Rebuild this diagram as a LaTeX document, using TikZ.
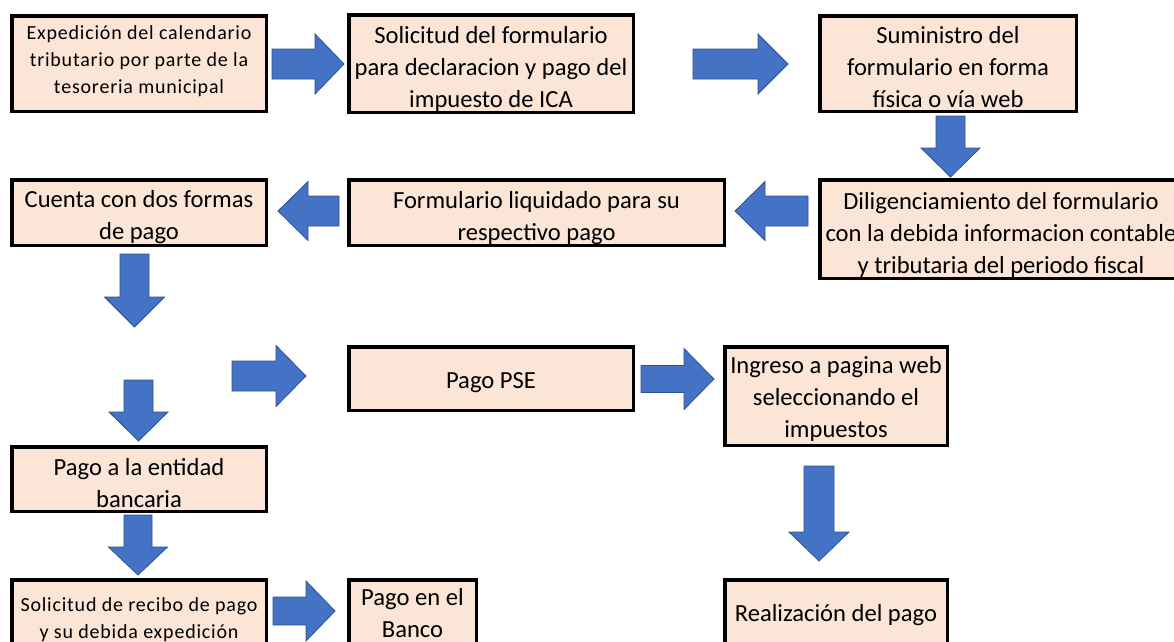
\documentclass[tikz,border=0pt]{standalone}
\usepackage{fontspec}
\setmainfont{Carlito}
\definecolor{boxfill}{HTML}{FBE5D6}
\definecolor{arrfill}{HTML}{4472C4}
\definecolor{arrline}{HTML}{2F528F}
\newcommand\bigfnt{\fontsize{24.6}{32}\selectfont}
\newcommand\smallfnt{\fontsize{20}{27}\selectfont\addfontfeature{LetterSpace=4}}
% text block whose first baseline lies #1 pt below the node centre
\newcommand\TB[2]{\smash{\raisebox{-#1pt}{\begin{tabular}[t]{@{}c@{}}#2\end{tabular}}}}
% right arrow: tail x, tip x, head base x, centre y, shaft half width, head half width
\newcommand\RArrow[6]{\draw[blockarrow] (#1,{#4-#5}) -- (#3,{#4-#5}) -- (#3,{#4-#6}) -- (#2,#4) -- (#3,{#4+#6}) -- (#3,{#4+#5}) -- (#1,{#4+#5}) -- cycle;}
% down arrow: tail y, tip y, head base y, centre x, shaft half width, head half width
\newcommand\DArrow[6]{\draw[blockarrow] ({#4-#5},#1) -- ({#4-#5},#3) -- ({#4-#6},#3) -- (#4,#2) -- ({#4+#6},#3) -- ({#4+#5},#3) -- ({#4+#5},#1) -- cycle;}
\begin{document}
\begin{tikzpicture}[x=1pt,y=-1pt,
  box/.style={draw=black, line width=3.5pt, fill=boxfill, inner sep=0pt, font=\bigfnt, text=black},
  smallbox/.style={box, font=\smallfnt},
  blockarrow/.style={fill=arrfill, draw=arrline, line width=0.8pt, line join=miter}]
\useasboundingbox (0,0) rectangle (1174,641);
\clip (0,0) rectangle (1174,641);
\fill[white] (0,0) rectangle (1174,641);

\node[smallbox, minimum width=254.5pt, minimum height=95.5pt] (b1) at (139,63.5)
  {\TB{-24.5}{Expedición del calendario\\tributario por parte de la\\tesoreria municipal}};
\node[box, minimum width=284.5pt, minimum height=97.5pt] (b2) at (491,63.5)
  {\TB{-20.2}{Solicitud del formulario\\para declaracion y pago del\\impuesto de ICA}};
\node[box, minimum width=256.5pt, minimum height=95.5pt] (b3) at (948,63.5)
  {\TB{-20.2}{Suministro del\\formulario en forma\\física o vía web}};
\node[box, minimum width=362.5pt, minimum height=98.5pt] (b4) at (1001,229)
  {\TB{-19.5}{Diligenciamiento del formulario\\con la debida informacion contable\\y tributaria del periodo fiscal}};
\node[box, minimum width=375.5pt, minimum height=65.5pt] (b5) at (536.5,212.5)
  {\TB{-4.2}{Formulario liquidado para su\\respectivo pago}};
\node[box, minimum width=254.5pt, minimum height=65.5pt] (b6) at (139,212.5)
  {\TB{-5.5}{Cuenta con dos formas\\de pago}};
\node[box, minimum width=284.5pt, minimum height=63.5pt] (pse) at (491,378.5)
  {\TB{10}{Pago PSE}};
\node[box, minimum width=222.5pt, minimum height=98.5pt] (ing) at (836,396)
  {\TB{-22.7}{Ingreso a pagina web\\seleccionando el\\impuestos}};
\node[box, minimum width=254.5pt, minimum height=64.5pt] (b7) at (139,479)
  {\TB{-3.7}{Pago a la entidad\\bancaria}};
\node[smallbox, minimum width=254.5pt, minimum height=78.5pt] (b8) at (139,619)
  {\TB{-7.5}{Solicitud de recibo de pago\\y su debida expedición}};
\node[box, minimum width=127.5pt, minimum height=78.5pt] (banco) at (412.5,619)
  {\TB{-13.2}{Pago en el\\Banco}};
\node[box, minimum width=222.5pt, minimum height=78.5pt] (real) at (836,619)
  {\TB{2.3}{Realización del pago}};

% block arrows
\RArrow{272}{344}{315}{64}{15}{30}
\RArrow{693}{788}{758}{64}{15}{30}
\DArrow{116}{177}{148}{950.5}{14.5}{29.5}
\RArrow{808}{735}{765}{211}{15}{29.5}
\RArrow{339}{278}{308}{211}{15}{29.5}
\DArrow{254}{327}{297}{134.5}{14.5}{30}
\RArrow{232}{306}{276}{376}{15}{30.5}
\DArrow{380}{441}{412}{138.5}{14.5}{29.5}
\RArrow{641}{714}{684}{379}{13.5}{30.5}
\DArrow{466}{561}{532}{819}{15}{30}
\DArrow{515}{575}{547}{138}{14}{29.5}
\RArrow{273}{335}{306}{611}{14}{30}
\end{tikzpicture}
\end{document}
